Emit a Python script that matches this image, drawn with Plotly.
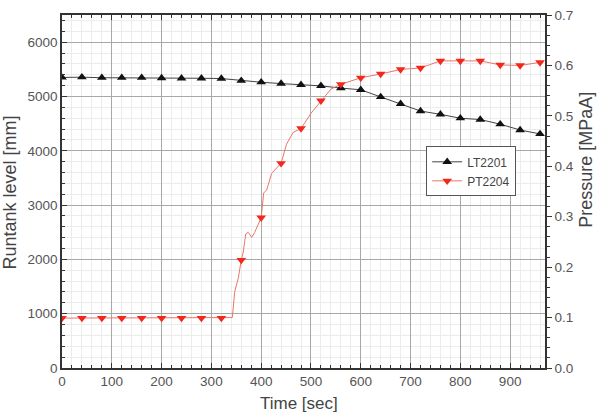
import plotly.graph_objects as go

# ---- data ----
time_marks = [0, 40, 80, 120, 160, 200, 240, 280, 320, 360, 400, 440, 480,
              520, 560, 600, 640, 680, 720, 760, 800, 840, 880, 920, 960]
lt2201 = [5350, 5355, 5345, 5345, 5345, 5340, 5335, 5335, 5330, 5290, 5262, 5237, 5215,
          5195, 5154, 5123, 4991, 4864, 4732, 4671, 4599, 4575, 4490, 4382, 4310]
pt2204 = [0.099, 0.099, 0.099, 0.099, 0.099, 0.099, 0.099, 0.099, 0.099, 0.214, 0.298, 0.406, 0.475,
          0.530, 0.5625, 0.5755, 0.583, 0.592, 0.595, 0.609, 0.609, 0.609, 0.601, 0.600, 0.606]

# dense pressure trace (line only)
pt_time = [0, 40, 80, 120, 160, 200, 240, 280, 320, 342, 347, 354, 360, 364, 369, 374, 381, 387, 400,
           403, 405, 411, 421, 440, 451, 464, 480, 500, 520, 540, 560, 600, 640, 680, 720, 760,
           800, 840, 880, 920, 960]
pt_dense = [0.099, 0.099, 0.099, 0.099, 0.099, 0.099, 0.099, 0.099, 0.099, 0.100, 0.152, 0.178, 0.214,
            0.230, 0.266, 0.269, 0.259, 0.269, 0.298, 0.321, 0.347, 0.353, 0.386, 0.406, 0.444,
            0.467, 0.475, 0.505, 0.530, 0.553, 0.5625, 0.5755, 0.583, 0.592, 0.595, 0.609,
            0.609, 0.609, 0.601, 0.600, 0.606]

left_ticks = [0, 1000, 2000, 3000, 4000, 5000, 6000]
right_ticks = [0.0, 0.1, 0.2, 0.3, 0.4, 0.5, 0.6, 0.7]
x_ticks = [0, 100, 200, 300, 400, 500, 600, 700, 800, 900]

FONT = "Liberation Sans, Arial, sans-serif"
BLACK_LINE = "#444444"
RED = "#f2281c"
RED_LINE = "#e8766c"
MS = 8.5

fig = go.Figure()

fig.add_trace(go.Scatter(
    x=time_marks, y=lt2201, mode="lines+markers", name="LT2201",
    line=dict(color=BLACK_LINE, width=1),
    marker=dict(symbol="triangle-up", size=MS, color="#111111"),
    yaxis="y"))

fig.add_trace(go.Scatter(
    x=pt_time, y=pt_dense, mode="lines", showlegend=False,
    line=dict(color=RED_LINE, width=1),
    yaxis="y2", hoverinfo="skip"))

fig.add_trace(go.Scatter(
    x=time_marks, y=pt2204, mode="markers", showlegend=False,
    marker=dict(symbol="triangle-down", size=MS, color=RED),
    yaxis="y2"))

# legend entry for PT2204
fig.add_trace(go.Scatter(
    x=[None], y=[None], mode="lines+markers", name="PT2204",
    line=dict(color=RED_LINE, width=1),
    marker=dict(symbol="triangle-down", size=MS, color=RED),
    yaxis="y2"))

axis_common = dict(
    showline=True, linecolor="#333333", linewidth=1.5,
    tickfont=dict(family=FONT, size=13.5, color="#555555"),
    zeroline=False,
)

fig.update_layout(
    width=599, height=412,
    margin=dict(l=62, r=54, t=8, b=44),
    paper_bgcolor="white", plot_bgcolor="white",
    font=dict(family=FONT, color="#444444"),
    xaxis=dict(
        range=[0, 970], tickvals=x_ticks, ticks="inside", ticklen=5, tickcolor="#333333",
        mirror="ticks", showgrid=True, gridcolor="#a8a8a8", gridwidth=1,
        minor=dict(dtick=20, tick0=0, ticks="inside", ticklen=3, tickcolor="#333333",
                   showgrid=True, gridcolor="#ececec", gridwidth=1),
        **axis_common),
    yaxis=dict(
        range=[0, 6500], tickvals=left_ticks, ticks="inside", ticklen=5, tickcolor="#333333",
        showgrid=True, gridcolor="#a8a8a8", gridwidth=1,
        minor=dict(dtick=200, tick0=0, ticks="inside", ticklen=3, tickcolor="#333333",
                   showgrid=True, gridcolor="#ececec", gridwidth=1),
        **axis_common),
    yaxis2=dict(
        range=[0, 0.7], tickvals=right_ticks, tickformat=".1f", overlaying="y", side="right",
        ticks="outside", ticklen=5, tickcolor="#333333", showgrid=False,
        minor=dict(dtick=0.02, tick0=0, ticks="outside", ticklen=3, tickcolor="#333333"),
        **axis_common),
    legend=dict(
        x=0.754, y=0.628, xanchor="left", yanchor="top",
        bgcolor="white", bordercolor="#555555", borderwidth=1,
        font=dict(family=FONT, size=12, color="#444444"),
        tracegroupgap=0, itemwidth=30,
    ),
    showlegend=True,
)

fig.add_annotation(text="Runtank level [mm]", textangle=-90, xref="paper", yref="paper",
                   x=-0.1077, y=0.497, xanchor="center", yanchor="middle", showarrow=False,
                   font=dict(family=FONT, size=18, color="#444444"))
fig.add_annotation(text="Pressure [MPaA]", textangle=-90, xref="paper", yref="paper",
                   x=1.085, y=0.59, xanchor="center", yanchor="middle", showarrow=False,
                   font=dict(family=FONT, size=18, color="#444444"))
fig.add_annotation(text="Time [sec]", xref="paper", yref="paper",
                   x=0.49, y=-0.0667, xanchor="center", yanchor="top", showarrow=False,
                   font=dict(family=FONT, size=17, color="#444444"))

fig.write_html("out.html")
